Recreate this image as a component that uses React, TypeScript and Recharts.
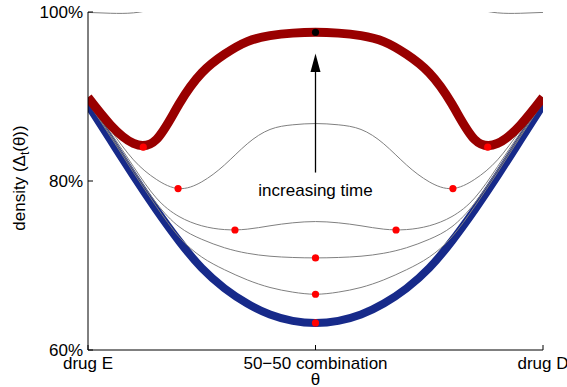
import { ComposedChart, Line, ReferenceDot, ReferenceLine, Scatter, XAxis, YAxis } from 'recharts';

const font = '"Liberation Sans", Arial, Helvetica, sans-serif';

// sample positions along θ (0 = drug E, 1 = drug D)
const theta = [0, 0.05, 0.1, 0.15, 0.2, 0.25, 0.3, 0.35, 0.4, 0.45, 0.5, 0.55, 0.6, 0.65, 0.7, 0.75, 0.8, 0.85, 0.9, 0.95, 1];

// density curves (percent)
const initialCurve = [89.0, 84.8, 80.6, 76.6, 72.9, 69.7, 67.3, 65.5, 64.2, 63.45, 63.2, 63.45, 64.2, 65.5, 67.3, 69.7, 72.9, 76.6, 80.6, 84.8, 89.0];
const step1Curve = [89.3, 85.2, 81.0, 77.0, 73.4, 71.0, 69.5, 68.3, 67.4, 66.85, 66.6, 66.85, 67.4, 68.3, 69.5, 71.0, 73.4, 77.0, 81.0, 85.2, 89.3];
const step2Curve = [89.4, 85.4, 81.3, 77.4, 74.6, 73.1, 72.1, 71.45, 71.1, 70.95, 70.9, 70.95, 71.1, 71.45, 72.1, 73.1, 74.6, 77.4, 81.3, 85.4, 89.4];
const step3Curve = [89.5, 85.7, 81.7, 78.0, 75.8, 74.7, 74.25, 74.3, 74.7, 75.05, 75.2, 75.05, 74.7, 74.3, 74.25, 74.7, 75.8, 78.0, 81.7, 85.7, 89.5];
const step4Curve = [89.6, 86.0, 82.5, 80.2, 79.1, 79.9, 81.9, 84.4, 86.1, 86.65, 86.8, 86.65, 86.1, 84.4, 81.9, 79.9, 79.1, 80.2, 82.5, 86.0, 89.6];
const finalCurve = [89.9, 86.6, 84.45, 84.9, 89.1, 92.8, 95.0, 96.5, 97.2, 97.5, 97.6, 97.5, 97.2, 96.5, 95.0, 92.8, 89.1, 84.9, 84.45, 86.6, 89.9];
const limitCurve = [99.95, 99.85, 99.9, 100.4, 101.2, 102.0, 102.6, 103.0, 103.3, 103.4, 103.5, 103.4, 103.3, 103.0, 102.6, 102.0, 101.2, 100.4, 99.9, 99.85, 99.95];

// marked minima / maximum
const minimaTheta = [0.1215, 0.8785, 0.198, 0.802, 0.323, 0.677, 0.5, 0.5, 0.5];
const minimaValue = [84.0, 84.0, 79.1, 79.1, 74.2, 74.2, 70.9, 66.6, 63.2];
const peakTheta = [0.5];
const peakValue = [97.6];

// arrow annotation
const arrowTheta = 0.5;
const arrowFrom = 81.0;
const arrowTo = 95.1;
const annotationText = 'increasing time';
const annotationValue = 78.9;

const xTicks = [0, 0.5, 1];
const xTickLabels = ['drug E', '50\u221250 combination', 'drug D'];
const yTicks = [60, 80, 100];

const toRows = (values: number[]) => theta.map((t, i) => ({ theta: t, value: values[i] }));
const toPoints = (ts: number[], vs: number[]) => ts.map((t, i) => ({ theta: t, value: vs[i] }));

const grayCurves = [step1Curve, step2Curve, step3Curve, step4Curve, limitCurve];

const ArrowShape = (props: any) => {
  const { x1, y1, y2 } = props;
  const top = Math.min(y1, y2);
  const bottom = Math.max(y1, y2);
  return (
    <g>
      <line x1={x1} y1={bottom} x2={x1} y2={top + 17} stroke="#000" strokeWidth={1.3} />
      <polygon points={`${x1},${top} ${x1 - 5},${top + 18.5} ${x1 + 5},${top + 18.5}`} fill="#000" />
    </g>
  );
};

const YLabel = (props: any) => {
  const vb = props.viewBox || { x: 0, y: 12, width: 88, height: 338 };
  const cx = vb.x + 25;
  const cy = vb.y + vb.height / 2 - 3;
  return (
    <text x={cx} y={cy} transform={`rotate(-90 ${cx} ${cy})`} textAnchor="middle" fontSize={17} fontFamily={font} fill="#000">
      <tspan>density (Δ</tspan>
      <tspan fontSize={12} dy={4}>t</tspan>
      <tspan dy={-4}>(θ))</tspan>
    </text>
  );
};

const XLabel = (props: any) => {
  const vb = props.viewBox || { x: 88, y: 350, width: 455, height: 37 };
  return (
    <text x={vb.x + vb.width / 2} y={vb.y + 35} textAnchor="middle" fontSize={17} fontFamily={font} fill="#000">
      θ
    </text>
  );
};

const dotShape = (color: string) => (p: any) => <circle cx={p.cx} cy={p.cy} r={3.6} fill={color} />;

export default function App() {
  return (
    <div style={{ position: 'absolute', left: 0, top: 0, width: 567, height: 387, background: '#fff' }}>
      <ComposedChart width={567} height={387} margin={{ top: 12, right: 24, bottom: 0, left: 0 }}>
        <XAxis
          type="number"
          dataKey="theta"
          domain={[0, 1]}
          allowDataOverflow
          ticks={xTicks}
          interval={0}
          tickFormatter={(v) => xTickLabels[xTicks.indexOf(v)] ?? ''}
          tickSize={-5}
          tickMargin={12}
          height={37}
          axisLine={{ stroke: '#000' }}
          tickLine={{ stroke: '#000' }}
          tick={{ fill: '#000', fontSize: 17, fontFamily: font }}
          label={{ content: XLabel }}
        />
        <XAxis
          xAxisId="top"
          orientation="top"
          type="number"
          dataKey="theta"
          domain={[0, 1]}
          allowDataOverflow
          ticks={xTicks}
          interval={0}
          tickFormatter={() => ''}
          tickSize={-5}
          height={0}
          axisLine={{ stroke: '#000' }}
          tickLine={{ stroke: '#000' }}
        />
        <YAxis
          type="number"
          dataKey="value"
          domain={[60, 100]}
          allowDataOverflow
          ticks={yTicks}
          interval={0}
          tickFormatter={(v) => `${v}%`}
          tickSize={-5}
          tickMargin={10}
          width={88}
          axisLine={{ stroke: '#000' }}
          tickLine={{ stroke: '#000' }}
          tick={{ fill: '#000', fontSize: 17, fontFamily: font }}
          label={{ content: YLabel }}
        />
        <YAxis
          yAxisId="right"
          orientation="right"
          type="number"
          dataKey="value"
          domain={[60, 100]}
          allowDataOverflow
          ticks={yTicks}
          interval={0}
          tickFormatter={() => ''}
          tickSize={-5}
          width={0}
          axisLine={{ stroke: '#000' }}
          tickLine={{ stroke: '#000' }}
        />
        <Line
          data={toRows(initialCurve)}
          dataKey="value"
          type="natural"
          stroke="#172a8a"
          strokeWidth={8}
          dot={false}
          activeDot={false}
          isAnimationActive={false}
        />
        {grayCurves.map((curve, i) => (
          <Line
            key={i}
            data={toRows(curve)}
            dataKey="value"
            type="natural"
            stroke="#808080"
            strokeWidth={1}
            dot={false}
            activeDot={false}
            isAnimationActive={false}
          />
        ))}
        <Line
          data={toRows(finalCurve)}
          dataKey="value"
          type="natural"
          stroke="#990000"
          strokeWidth={9}
          dot={false}
          activeDot={false}
          isAnimationActive={false}
        />
        <Scatter data={toPoints(minimaTheta, minimaValue)} dataKey="value" shape={dotShape('#ff0000')} isAnimationActive={false} />
        <Scatter data={toPoints(peakTheta, peakValue)} dataKey="value" shape={dotShape('#000')} isAnimationActive={false} />
        <ReferenceLine
          segment={[
            { x: arrowTheta, y: arrowFrom },
            { x: arrowTheta, y: arrowTo },
          ]}
          shape={ArrowShape}
        />
        <ReferenceDot
          x={arrowTheta}
          y={annotationValue}
          r={0}
          fill="none"
          stroke="none"
          label={{ value: annotationText, position: 'center', fill: '#000', fontSize: 17, fontFamily: font }}
        />
      </ComposedChart>
    </div>
  );
}
